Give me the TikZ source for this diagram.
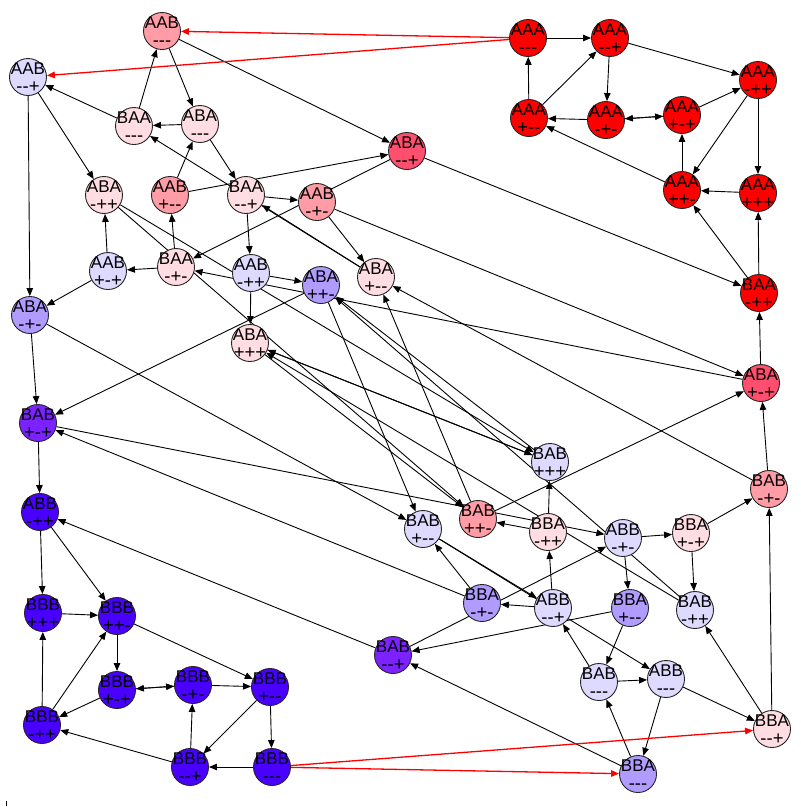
\documentclass[tikz,border=0pt]{standalone}
\usepackage{fontspec}
\setmainfont{Liberation Sans}
\usetikzlibrary{arrows.meta}
\pgfdeclarelayer{bg}
\pgfsetlayers{bg,main}
\definecolor{cRed}{HTML}{FF0000}
\definecolor{cRose}{HTML}{FF4F6E}
\definecolor{cPink}{HTML}{FF9CA6}
\definecolor{cLight}{HTML}{FFDDE2}
\definecolor{cLav}{HTML}{DED9FF}
\definecolor{cMed}{HTML}{B09CFF}
\definecolor{cViol}{HTML}{7B22FF}
\definecolor{cBlue}{HTML}{4A00FF}
\newcommand\mknode[5]{%
  \node[st=#3] (#1) at (#2) {};
  \node[lt, anchor=base] (#1a) at ([yshift=3pt]#1.center) {#4};
  \node[ls, anchor=base] (#1b) at ([yshift=-15pt]#1.center) {#5};}
\begin{document}
\begin{tikzpicture}[x=1pt,y=-1pt,
  st/.style={circle, draw=black!85, line width=0.9pt, minimum size=37pt, inner sep=0pt, fill=#1},
  lt/.style={inner sep=0pt, text=black, font=\fontsize{17}{18}\selectfont},
  ls/.style={inner sep=0pt, text=black, font=\fontsize{18.5}{19}\selectfont},
  ed/.style={-{Triangle[length=8pt,width=6.5pt]}, line width=0.9pt, black},
  redge/.style={-{Triangle[length=8pt,width=6.5pt]}, line width=1.3pt, red}]
\useasboundingbox (0,0) rectangle (801,807);
% AAA cluster
\mknode{R1}{528,38}{cRed}{AAA}{-{}-{}-}
\mknode{R2}{610,38}{cRed}{AAA}{-{}-{}+}
\mknode{R3}{758,80}{cRed}{AAA}{-{}+{}+}
\mknode{R4}{529,118}{cRed}{AAA}{+{}-{}-}
\mknode{R5}{606,120}{cRed}{AAA}{-{}+{}-}
\mknode{R6}{682,115}{cRed}{AAA}{+{}-{}+}
\mknode{R7}{682,190}{cRed}{AAA}{+{}+{}-}
\mknode{R8}{758,193}{cRed}{AAA}{+{}+{}+}
\mknode{R9}{759,293}{cRed}{BAA}{-{}+{}+}
\mknode{R10}{761,383}{cRose}{ABA}{+{}-{}+}
% upper left
\mknode{A1}{162,31}{cPink}{AAB}{-{}-{}-}
\mknode{A2}{28,77}{cLav}{AAB}{-{}-{}+}
\mknode{A3}{134,126}{cLight}{BAA}{-{}-{}-}
\mknode{A4}{200,124}{cLight}{ABA}{-{}-{}-}
\mknode{A5}{407,151}{cRose}{ABA}{-{}-{}+}
\mknode{A6}{104,195}{cLight}{ABA}{-{}+{}+}
\mknode{A7}{170,195}{cPink}{AAB}{+{}-{}-}
\mknode{A8}{246,195}{cLight}{BAA}{-{}-{}+}
\mknode{A9}{317,202}{cPink}{AAB}{-{}+{}-}
\mknode{A10}{108,271}{cLav}{AAB}{+{}-{}+}
\mknode{A11}{176,267}{cLight}{BAA}{-{}+{}-}
\mknode{A12}{251,273}{cLav}{AAB}{-{}+{}+}
\mknode{A13}{321,285}{cMed}{ABA}{+{}+{}-}
\mknode{A14}{376,277}{cLight}{ABA}{+{}-{}-}
\mknode{A15}{30,315}{cMed}{ABA}{-{}+{}-}
\mknode{A16}{250,343}{cLight}{ABA}{+{}+{}+}
\mknode{A17}{38,423}{cViol}{BAB}{+{}-{}+}
\mknode{A18}{40,512}{cBlue}{ABB}{-{}+{}+}
% lower right
\mknode{B1}{550,462}{cLav}{BAB}{+{}+{}+}
\mknode{B2}{769,489}{cPink}{BAB}{-{}+{}-}
\mknode{B3}{478,519}{cPink}{BAB}{+{}+{}-}
\mknode{B4}{423,529}{cLav}{BAB}{+{}-{}-}
\mknode{B5}{548,532}{cLight}{BBA}{-{}+{}+}
\mknode{B6}{623,538}{cLav}{ABB}{-{}+{}-}
\mknode{B7}{691,533}{cLight}{BBA}{+{}-{}+}
\mknode{B8}{482,603}{cMed}{BBA}{-{}+{}-}
\mknode{B9}{553,608}{cLav}{ABB}{-{}-{}+}
\mknode{B10}{630,608}{cMed}{BBA}{+{}-{}-}
\mknode{B11}{695,610}{cLav}{BAB}{-{}+{}+}
\mknode{B12}{393,655}{cViol}{BAB}{-{}-{}+}
\mknode{B13}{599,682}{cLav}{BAB}{-{}-{}-}
\mknode{B14}{666,679}{cLav}{ABB}{-{}-{}-}
\mknode{B15}{772,729}{cLight}{BBA}{-{}-{}+}
\mknode{B16}{638,774}{cMed}{BBA}{-{}-{}-}
% BBB cluster
\mknode{C1}{43,613}{cBlue}{BBB}{+{}+{}+}
\mknode{C2}{117,616}{cBlue}{BBB}{+{}+{}-}
\mknode{C3}{117,690}{cBlue}{BBB}{+{}-{}+}
\mknode{C4}{193,685}{cBlue}{BBB}{-{}+{}-}
\mknode{C5}{270,687}{cBlue}{BBB}{+{}-{}-}
\mknode{C6}{42,725}{cBlue}{BBB}{-{}+{}+}
\mknode{C7}{190,767}{cBlue}{BBB}{-{}-{}+}
\mknode{C8}{272,767}{cBlue}{BBB}{-{}-{}-}
\coordinate (t1) at (6.5,801);
\coordinate (t2) at (6.5,806);
\begin{pgfonlayer}{bg}
\foreach \a/\b in {R1/R2,R4/R1,R4/R2,R2/R5,R2/R3,R5/R4,R5/R6,R3/R7,R3/R8,R6/R5,R6/R3,R7/R4,R7/R6,R8/R7,
  C8/C7,C7/C4,C7/C6,C4/C5,C4/C3,C6/C2,C6/C1,C5/C8,C5/C7,C3/C4,C3/C6,C2/C5,C2/C3,C1/C2,
  A1/A4,A1/A5,A2/A15,A2/A6,A7/A4,A7/A5,A9/A14,A9/R10,A10/A15,A10/A6,A12/A13,A12/A16,
  A4/A3,A4/A8,A5/A11,A5/R9,A6/B3,A6/B1,A13/B4,A13/A17,A14/A3,A14/A8,A15/B4,A15/A17,A16/B3,A16/B1,R10/A11,R10/R9,
  A3/A1,A3/A2,A8/A9,A8/A12,A11/A7,A11/A10,R9/R7,R9/R8,
  A18/C2,A18/C1,B6/B10,B6/B7,B9/B8,B9/B5,B14/B16,B14/B15,
  B5/B3,B5/B1,B7/B2,B7/B11,B8/B4,B8/A17,B10/B13,B10/B12,B15/B2,B15/B11,B16/B13,B16/B12,
  A17/B6,A17/A18,B1/A13,B1/A16,B2/A14,B2/R10,B3/A14,B3/R10,B4/B9,B4/B14,B11/A13,B11/A16,B12/A18,B12/B6,B13/B14,B13/B9}
  {\draw[ed] (\a) -- (\b);}
\draw[redge] (R1) -- (A1);
\draw[redge] (R1) -- (A2);
\draw[redge] (C8) -- (B15);
\draw[redge] (C8) -- (B16);
\draw[line width=1pt] (t1) -- (t2);
\end{pgfonlayer}
\end{tikzpicture}
\end{document}
